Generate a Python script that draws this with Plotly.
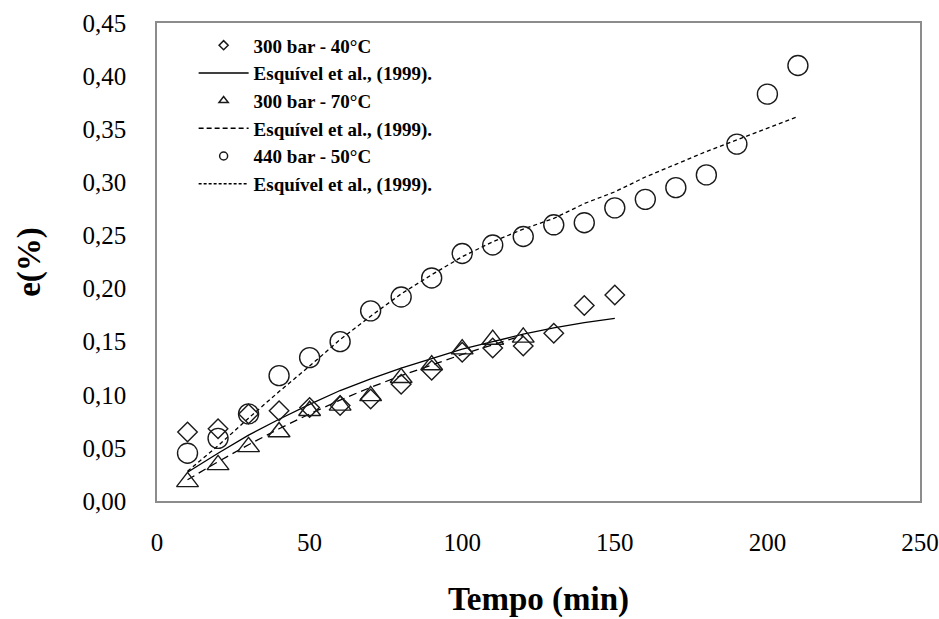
import plotly.graph_objects as go

# ---- data ----
t_40 = [10, 20, 30, 40, 50, 60, 70, 80, 90, 100, 110, 120, 130, 140, 150]
e_40 = [0.065, 0.068, 0.082, 0.085, 0.088, 0.090, 0.096, 0.110, 0.123, 0.140, 0.144, 0.146, 0.158, 0.184, 0.194]
model_40 = [0.027, 0.045, 0.062, 0.077, 0.091, 0.104, 0.115, 0.125, 0.134, 0.143, 0.150, 0.157, 0.163, 0.168, 0.172]

t_70 = [10, 20, 30, 40, 50, 60, 70, 80, 90, 100, 110, 120]
e_70 = [0.018, 0.034, 0.051, 0.065, 0.085, 0.090, 0.099, 0.116, 0.128, 0.143, 0.152, 0.154]
model_70 = [0.020, 0.037, 0.053, 0.068, 0.082, 0.095, 0.107, 0.118, 0.128, 0.138, 0.147, 0.156]

t_50 = [10, 20, 30, 40, 50, 60, 70, 80, 90, 100, 110, 120, 130, 140, 150,
        160, 170, 180, 190, 200, 210]
e_50 = [0.045, 0.059, 0.082, 0.118, 0.135, 0.150, 0.179, 0.192, 0.210, 0.233, 0.241, 0.249, 0.260, 0.262, 0.276,
        0.284, 0.295, 0.307, 0.336, 0.383, 0.410]
model_50 = [0.028, 0.052, 0.078, 0.103, 0.127, 0.152, 0.174, 0.195, 0.213, 0.230, 0.244, 0.256, 0.266, 0.280, 0.291,
            0.305, 0.317, 0.329, 0.340, 0.351, 0.362]

x_ticks = [0, 50, 100, 150, 200, 250]
y_ticks = [0.00, 0.05, 0.10, 0.15, 0.20, 0.25, 0.30, 0.35, 0.40, 0.45]
y_tick_labels = [f"{v:.2f}".replace(".", ",") for v in y_ticks]

names = ["300 bar - 40°C", "Esquível et al., (1999).",
         "300 bar - 70°C", "Esquível et al., (1999).",
         "440 bar - 50°C", "Esquível et al., (1999)."]

FONT = "Liberation Serif, Times New Roman, serif"
INK = "#1a1a1a"

fig = go.Figure()

# model curves (drawn first so markers sit on top)
fig.add_trace(go.Scatter(x=t_40, y=model_40, mode="lines", showlegend=False,
                         line=dict(color="black", width=1.3, dash="solid")))
fig.add_trace(go.Scatter(x=t_70, y=model_70, mode="lines", showlegend=False,
                         line=dict(color="black", width=1.3, dash="8px,5px")))
fig.add_trace(go.Scatter(x=t_50, y=model_50, mode="lines", showlegend=False,
                         line=dict(color="black", width=1.3, dash="4px,3px")))

# experimental points
fig.add_trace(go.Scatter(x=t_40, y=e_40, mode="markers", showlegend=False,
                         marker=dict(symbol="diamond-open", size=15, color=INK, line=dict(width=1.4, color=INK))))
fig.add_trace(go.Scatter(x=t_70, y=e_70, mode="markers", showlegend=False,
                         marker=dict(symbol="triangle-up-open", size=19, color=INK, line=dict(width=1.4, color=INK))))
fig.add_trace(go.Scatter(x=t_50, y=e_50, mode="markers", showlegend=False,
                         marker=dict(symbol="circle-open", size=20, color=INK, line=dict(width=1.4, color=INK))))

# legend entries (small symbols as in the reference)
fig.add_trace(go.Scatter(x=[None], y=[None], mode="markers", name=names[0],
                         marker=dict(symbol="diamond-open", size=7, color=INK, line=dict(width=1.5, color=INK))))
fig.add_trace(go.Scatter(x=[None], y=[None], mode="lines", name=names[1],
                         line=dict(color="black", width=1.5, dash="solid")))
fig.add_trace(go.Scatter(x=[None], y=[None], mode="markers", name=names[2],
                         marker=dict(symbol="triangle-up-open", size=8, color=INK, line=dict(width=1.5, color=INK))))
fig.add_trace(go.Scatter(x=[None], y=[None], mode="lines", name=names[3],
                         line=dict(color="black", width=1.5, dash="5px,3px")))
fig.add_trace(go.Scatter(x=[None], y=[None], mode="markers", name=names[4],
                         marker=dict(symbol="circle-open", size=8, color=INK, line=dict(width=1.5, color=INK))))
fig.add_trace(go.Scatter(x=[None], y=[None], mode="lines", name=names[5],
                         line=dict(color="black", width=1.5, dash="3px,2px")))

axis_common = dict(showgrid=False, zeroline=False, showline=True, mirror=True,
                   linecolor="#8c8c8c", linewidth=1.5, ticks="outside",
                   tickcolor="rgba(0,0,0,0)", automargin=False,
                   tickfont=dict(family=FONT, size=25, color="black"))

fig.update_layout(
    width=939, height=619,
    margin=dict(l=157, r=19, t=23, b=118),
    paper_bgcolor="white", plot_bgcolor="white",
    font=dict(family=FONT, color="black"),
    xaxis=dict(range=[0, 250], tickvals=x_ticks, ticklen=18,
               title=dict(text="<b>Tempo (min)</b>", font=dict(family=FONT, size=33), standoff=32),
               **axis_common),
    yaxis=dict(range=[0, 0.45], tickvals=y_ticks, ticktext=y_tick_labels, ticklen=24,
               title=dict(text="<b>e(%)</b>", font=dict(family=FONT, size=33), standoff=32),
               **axis_common),
    legend=dict(x=0.048, y=0.993, xanchor="left", yanchor="top",
                bgcolor="rgba(0,0,0,0)", borderwidth=0,
                font=dict(family=FONT, size=19, color="black"),
                tracegroupgap=0, itemwidth=50),
)
for tr in fig.data:
    if tr.name:
        tr.name = f"<b>{tr.name}</b>"

fig.write_html("out.html")
